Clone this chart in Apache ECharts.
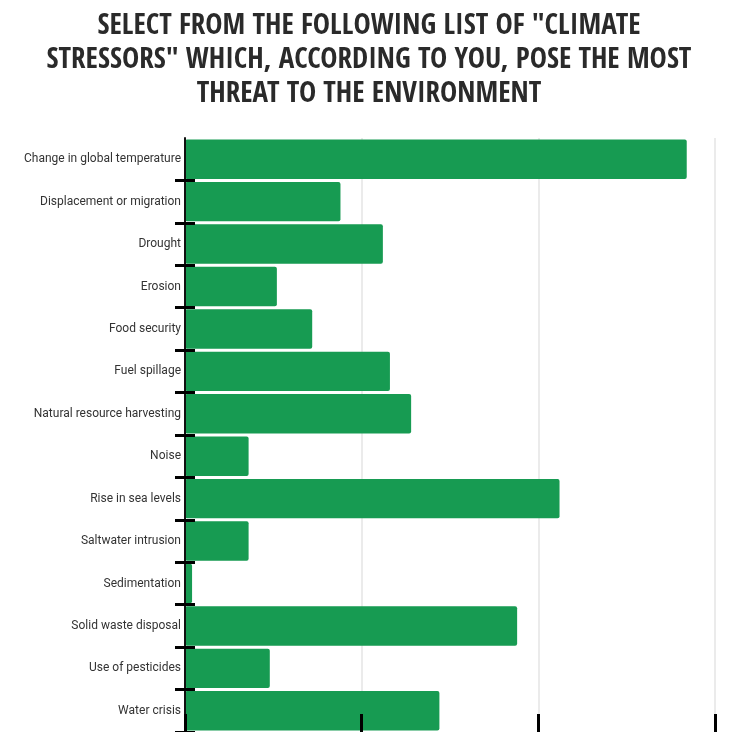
<!DOCTYPE html>
<html><head><meta charset="utf-8">
<script src="https://cdn.jsdelivr.net/npm/echarts@6/dist/echarts.min.js"></script>
<style>html,body{margin:0;padding:0;background:#fff}#c{width:738px;height:732px}</style>
</head><body><div id="c"></div>
<script>
const titleLines = ['SELECT FROM THE FOLLOWING LIST OF "CLIMATE', 'STRESSORS" WHICH, ACCORDING TO YOU, POSE THE MOST', 'THREAT TO THE ENVIRONMENT'];
const categories = ['Change in global temperature','Displacement or migration','Drought','Erosion','Food security','Fuel spillage','Natural resource harvesting','Noise','Rise in sea levels','Saltwater intrusion','Sedimentation','Solid waste disposal','Use of pesticides','Water crisis'];
const values = [28.4, 8.8, 11.2, 5.2, 7.2, 11.6, 12.8, 3.6, 21.2, 3.6, 0.4, 18.8, 4.8, 14.4];
const xMax = 30, xStep = 10;

const chart = echarts.init(document.getElementById('c'));
const grid = {left:185, top:138, width:530, height:599};
chart.setOption({
  animation:false,
  title:{text:titleLines.join('\n'), left:'center', top:4,
    textStyle:{fontFamily:'"Open Sans Condensed","Liberation Sans Narrow","DejaVu Sans Condensed",sans-serif', fontWeight:'bold', fontSize:29, lineHeight:34, color:'#2a2a2a'}},
  grid:grid,
  xAxis:[
    {type:'value', min:0, max:xMax, interval:xStep, axisLabel:{show:false}, axisLine:{show:false}, axisTick:{show:false},
     splitLine:{show:true, lineStyle:{color:'#ebebeb', width:2}}, z:0},
    {type:'value', min:0, max:xMax, interval:xStep, position:'bottom', axisLabel:{show:false}, axisLine:{show:false},
     axisTick:{show:true, inside:true, length:18, lineStyle:{color:'#000', width:3}}, splitLine:{show:false}, z:5}
  ],
  yAxis:[
    {type:'category', data:categories, inverse:true, axisLine:{show:true, lineStyle:{color:'#111', width:2}},
     axisTick:{show:true, length:10, interval:function(i){return i!==0;}, lineStyle:{color:'#000', width:3}},
     axisLabel:{color:'#333', fontSize:12, fontFamily:'Roboto,sans-serif', margin:4}, z:5},
    {type:'category', data:categories, inverse:true, position:'left', axisLine:{show:false}, axisLabel:{show:false},
     axisTick:{show:true, inside:true, length:10, interval:function(i){return i!==0;}, lineStyle:{color:'#000', width:3}}, z:5}
  ],
  series:[{type:'bar', data:values, xAxisIndex:0, yAxisIndex:0, barCategoryGap:'7%',
    itemStyle:{color:'#179b52', borderRadius:2}}]
});
</script></body></html>
